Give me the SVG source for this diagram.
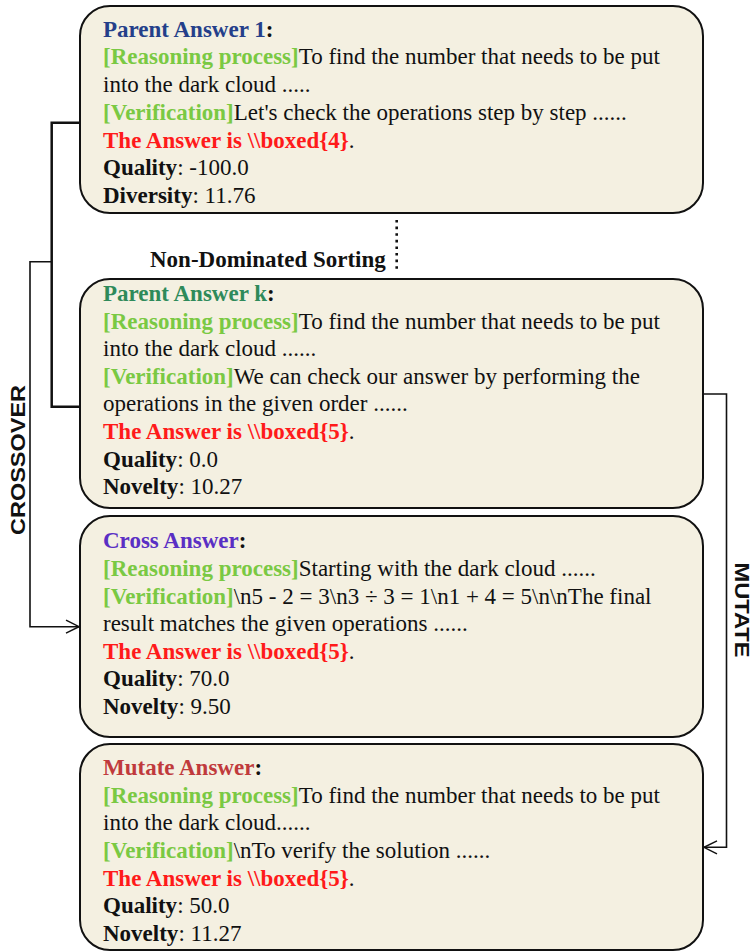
<svg xmlns="http://www.w3.org/2000/svg" width="752" height="951" viewBox="0 0 752 951">
<defs>
<style>
.box{fill:#f4f0e1;stroke:#111;stroke-width:2}
.t{font-family:"Liberation Serif","Times New Roman",serif;font-size:23px;fill:#111}
.b{font-weight:bold}
.g{fill:#7ac943;font-weight:bold}
.r{fill:#ff1a1a;font-weight:bold}
.lbl{font-family:"Liberation Sans",Arial,sans-serif;font-weight:bold;fill:#111}
.c{fill:none;stroke:#111}
</style>
<marker id="arr" markerUnits="userSpaceOnUse" markerWidth="20" markerHeight="20" refX="14" refY="8" orient="auto">
<path d="M1,1.5 L14,8 L1,14.5" fill="none" stroke="#111" stroke-width="1.5"/>
</marker>
</defs>
<rect width="752" height="951" fill="#fff"/>

<g id="connectors">
<path class="c" d="M80,122.7 H51.7 V406.7 H80" stroke-width="2.5"/>
<path class="c" d="M51.7,261.7 H30 V626.7 H79" stroke-width="1.6" marker-end="url(#arr)"/>
<path class="c" d="M703,394 H726.5 V847.3 H704" stroke-width="1.6" marker-end="url(#arr)"/>
<line x1="396.7" y1="220" x2="396.7" y2="272" stroke="#111" stroke-width="2.6" stroke-dasharray="2.6 4"/>
<text class="t b" x="150" y="266.7">Non-Dominated Sorting</text>
<text class="lbl" font-size="21" transform="translate(25,460) rotate(-90)" text-anchor="middle" textLength="150" lengthAdjust="spacingAndGlyphs">CROSSOVER</text>
<text class="lbl" font-size="20" transform="translate(735,610) rotate(90)" text-anchor="middle" textLength="95" lengthAdjust="spacingAndGlyphs">MUTATE</text>
</g>

<g id="parent1">
<rect class="box" x="80" y="6" width="623" height="207" rx="30"/>
<text class="t" x="103">
<tspan x="103" y="36.7"><tspan class="b" fill="#243f8a">Parent Answer 1</tspan><tspan class="b">:</tspan></tspan>
<tspan x="103" y="64.4"><tspan class="g">[Reasoning process]</tspan>To find the number that needs to be put</tspan>
<tspan x="103" y="92.1">into the dark cloud .....</tspan>
<tspan x="103" y="119.8"><tspan class="g">[Verification]</tspan>Let's check the operations step by step ......</tspan>
<tspan x="103" y="147.5"><tspan class="r">The Answer is \\boxed{4}</tspan>.</tspan>
<tspan x="103" y="175.2"><tspan class="b">Quality</tspan>: -100.0</tspan>
<tspan x="103" y="202.9"><tspan class="b">Diversity</tspan>: 11.76</tspan>
</text>
</g>

<g id="parentk">
<rect class="box" x="80" y="279" width="623" height="229" rx="30"/>
<text class="t" x="103">
<tspan x="103" y="301"><tspan class="b" fill="#2e8a5a">Parent Answer k</tspan><tspan class="b">:</tspan></tspan>
<tspan x="103" y="328.6"><tspan class="g">[Reasoning process]</tspan>To find the number that needs to be put</tspan>
<tspan x="103" y="356.2">into the dark cloud ......</tspan>
<tspan x="103" y="383.8"><tspan class="g">[Verification]</tspan>We can check our answer by performing the</tspan>
<tspan x="103" y="411.4">operations in the given order ......</tspan>
<tspan x="103" y="439"><tspan class="r">The Answer is \\boxed{5}</tspan>.</tspan>
<tspan x="103" y="466.6"><tspan class="b">Quality</tspan>: 0.0</tspan>
<tspan x="103" y="494.2"><tspan class="b">Novelty</tspan>: 10.27</tspan>
</text>
</g>

<g id="cross">
<rect class="box" x="80" y="516" width="623" height="221" rx="30"/>
<text class="t" x="103">
<tspan x="103" y="548.3"><tspan class="b" fill="#5a2fc4">Cross Answer</tspan><tspan class="b">:</tspan></tspan>
<tspan x="103" y="576"><tspan class="g">[Reasoning process]</tspan>Starting with the dark cloud ......</tspan>
<tspan x="103" y="603.6"><tspan class="g">[Verification]</tspan>\n5 - 2 = 3\n3 ÷ 3 = 1\n1 + 4 = 5\n\nThe final</tspan>
<tspan x="103" y="631.2">result matches the given operations ......</tspan>
<tspan x="103" y="658.8"><tspan class="r">The Answer is \\boxed{5}</tspan>.</tspan>
<tspan x="103" y="686.4"><tspan class="b">Quality</tspan>: 70.0</tspan>
<tspan x="103" y="714"><tspan class="b">Novelty</tspan>: 9.50</tspan>
</text>
</g>

<g id="mutate">
<rect class="box" x="80" y="744" width="623" height="206" rx="30"/>
<text class="t" x="103">
<tspan x="103" y="775"><tspan class="b" fill="#c03a3c">Mutate Answer</tspan><tspan class="b">:</tspan></tspan>
<tspan x="103" y="802.8"><tspan class="g">[Reasoning process]</tspan>To find the number that needs to be put</tspan>
<tspan x="103" y="830.4">into the dark cloud......</tspan>
<tspan x="103" y="858"><tspan class="g">[Verification]</tspan>\nTo verify the solution ......</tspan>
<tspan x="103" y="885.6"><tspan class="r">The Answer is \\boxed{5}</tspan>.</tspan>
<tspan x="103" y="913.2"><tspan class="b">Quality</tspan>: 50.0</tspan>
<tspan x="103" y="940.8"><tspan class="b">Novelty</tspan>: 11.27</tspan>
</text>
</g>
</svg>
